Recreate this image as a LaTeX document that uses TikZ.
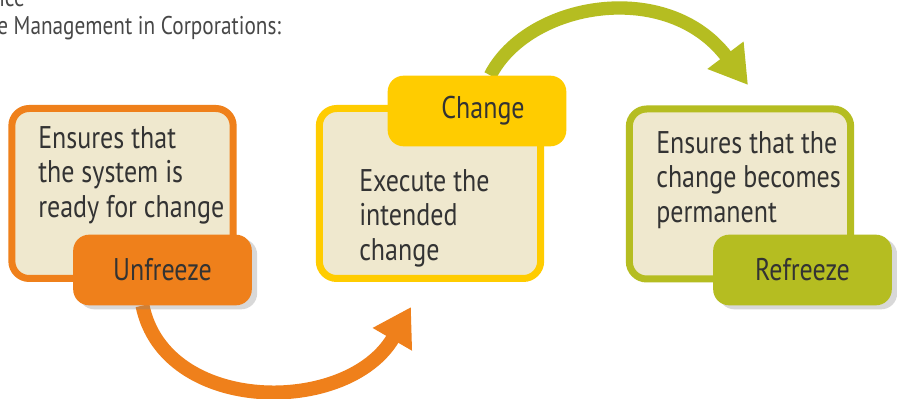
\documentclass[tikz,border=0pt]{standalone}
\usepackage{fontspec}
\setmainfont{PT Sans}[FakeStretch=0.83]
\usetikzlibrary{arrows.meta,shadows,backgrounds}
\definecolor{unfreezeorange}{RGB}{239,128,27}
\definecolor{changeyellow}{RGB}{255,204,0}
\definecolor{refreezegreen}{RGB}{181,189,33}
\definecolor{boxcream}{RGB}{239,232,206}
\definecolor{textgray}{RGB}{51,51,51}
\tikzset{
  stagebox/.style={draw=#1, fill=boxcream, line width=5.25pt, rounded corners=13pt,
    minimum width=166pt, minimum height=127.5pt},
  stagelabel/.style={fill=#1, rounded corners=12pt, minimum width=134pt, minimum height=53pt,
    text=textgray, font=\fontsize{23.5}{26}\selectfont},
  boxtext/.style={anchor=north west, inner sep=0pt, align=left, text=textgray,
    font=\fontsize{23.5}{26}\selectfont},
  headtext/.style={anchor=base west, inner sep=0pt, text=textgray!90,
    font=\fontsize{19.2}{22}\selectfont},
  stagearrow/.style={draw=#1, line width=10.5pt, -{Triangle[length=28pt,width=32pt]}},
  labelshadow/.style={drop shadow={shadow xshift=4pt, shadow yshift=-3pt, opacity=.3}}
}
\begin{document}
\begin{tikzpicture}[x=0.75pt, y=-0.75pt]
  \useasboundingbox (0,0) rectangle (897,399);

  %% heading
  \node[headtext] (headone) at (-1,7) {ice};
  \node[headtext] (headtwo) at (-3,35) {e Management in Corporations:};

  %% unfreeze
  \node[stagebox=unfreezeorange] (unfreezebox) at (122.5,193.5) {};
  \node[boxtext] (unfreezetext) at (38,126) {Ensures that\\the system is\\ready for change};
  \node[stagelabel=unfreezeorange, labelshadow] (unfreezelabel) at (162.5,270) {Unfreeze};

  %% change
  \node[stagebox=changeyellow] (changebox) at (430,193.5) {};
  \node[boxtext] (changetext) at (359,169) {Execute the\\intended\\change};
  \node[stagelabel=changeyellow] (changelabel) at (477,111) {\hspace{9pt}Change};

  %% refreeze
  \node[stagebox=refreezegreen] (refreezebox) at (740,194) {};
  \node[boxtext] (refreezetext) at (656,131) {Ensures that the\\change becomes\\permanent};
  \node[stagelabel=refreezegreen, labelshadow] (refreezelabel) at (802.5,270) {Refreeze};

  %% arrows
  \coordinate (changetip) at (411,307);
  \coordinate (refreezetip) at (748,85);
  \begin{scope}[on background layer]
    \fill[white] (0,0) rectangle (897,399);
    \draw[stagearrow=unfreezeorange] ([xshift=-15pt]unfreezelabel.south)
      .. controls (165,415) and (348,416) .. (changetip);
    \draw[stagearrow=refreezegreen, line width=10pt] ([xshift=10pt]changelabel.north)
      .. controls (528,2) and (667,-22) .. (refreezetip);
  \end{scope}
\end{tikzpicture}
\end{document}
